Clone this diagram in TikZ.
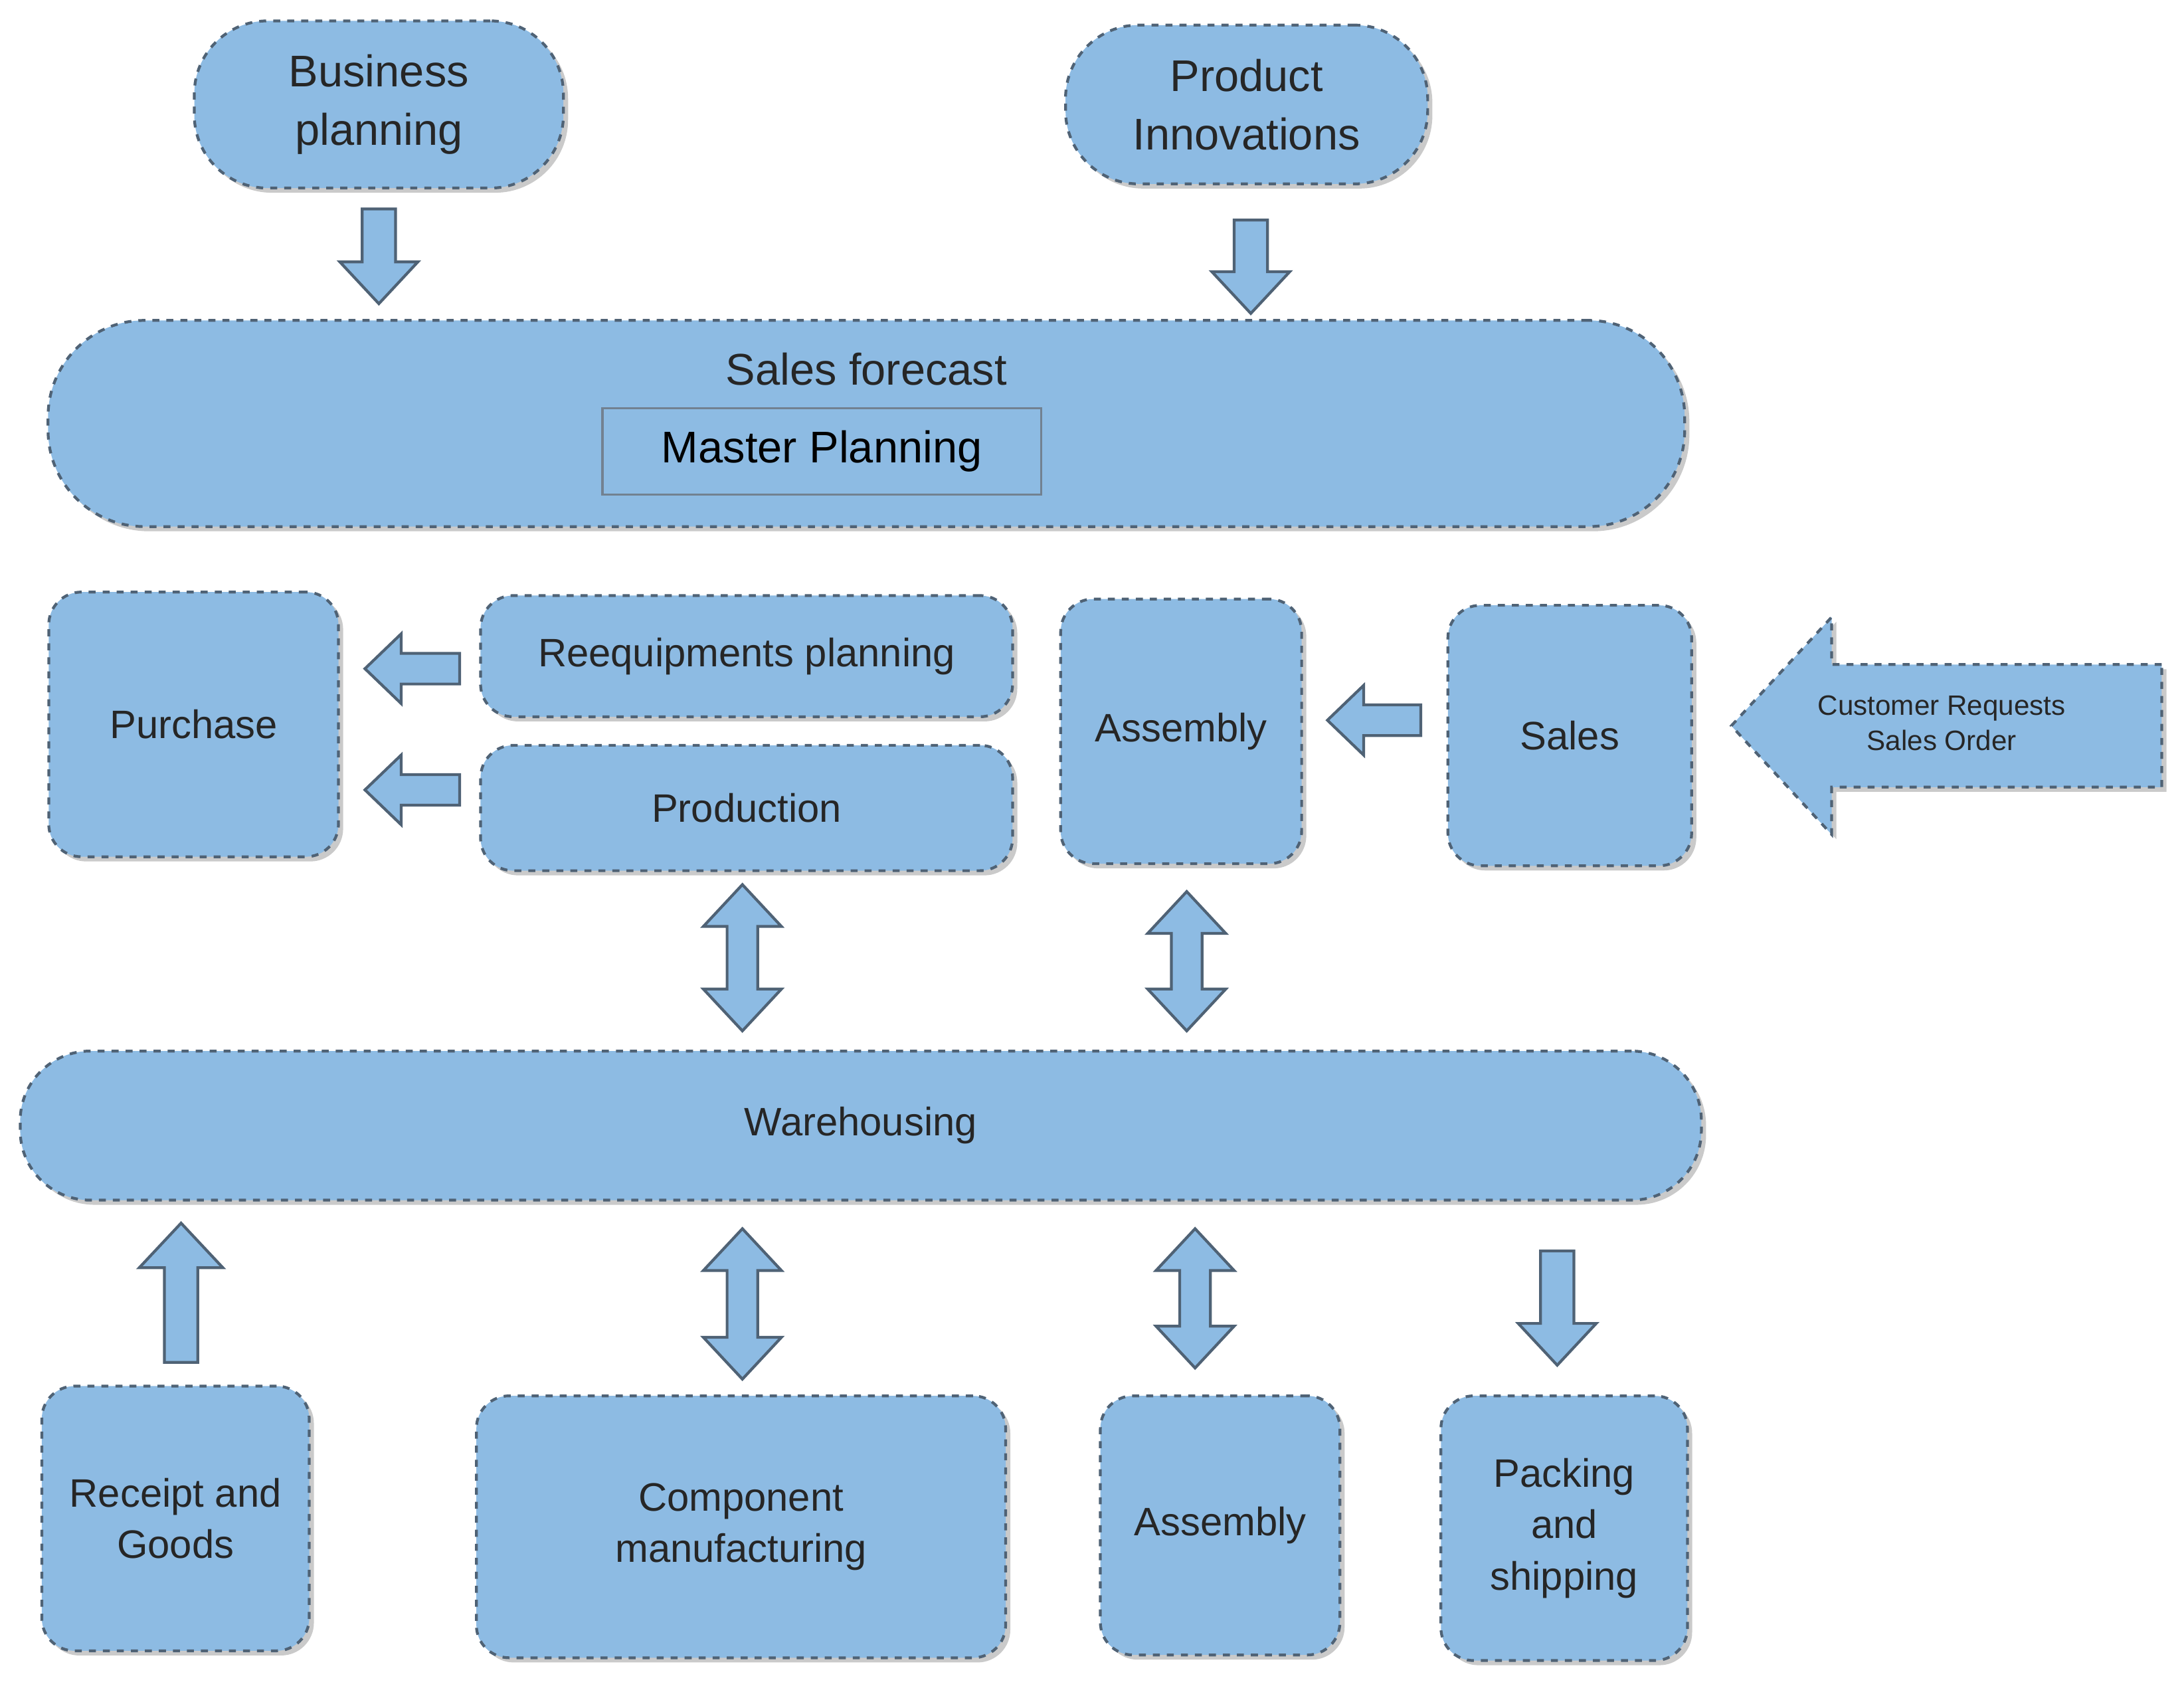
\documentclass[tikz,border=0pt]{standalone}
\usepackage{fontspec}
\setmainfont{Liberation Sans}
\usetikzlibrary{shadows}
\newcommand\uu{0.02097cm}
\definecolor{bfill}{HTML}{8DBBE3}
\definecolor{bline}{HTML}{4F6275}
\tikzset{
 base/.style={fill=bfill,draw=bline,dashed,line width=1.2pt,
   drop shadow={shadow xshift=2pt,shadow yshift=-2pt,opacity=0.35,fill=black!60},align=center,text=black!85},
 box/.style={base,rounded corners=14pt,font=\fontsize{17}{22}\selectfont},
 pill/.style={base,rounded corners=1.1cm,font=\fontsize{19}{25}\selectfont},
 arr/.style={fill=bfill,draw=bline,line width=1.2pt,solid,line join=miter}
}
% vertical arrow: x, ystart, yend(tip), head half width, shaft half width, signed head length
\newcommand\myvarr[7][]{\draw[arr,#1] ({#2-#6},#3) -- ({#2-#6},{#4-#7}) -- ({#2-#5},{#4-#7}) -- (#2,#4) -- ({#2+#5},{#4-#7}) -- ({#2+#6},{#4-#7}) -- ({#2+#6},#3) -- cycle;}
\newcommand\myharr[7][]{\draw[arr,#1] (#3,{#2-#6}) -- ({#4-#7},{#2-#6}) -- ({#4-#7},{#2-#5}) -- (#4,#2) -- ({#4-#7},{#2+#5}) -- ({#4-#7},{#2+#6}) -- (#3,{#2+#6}) -- cycle;}
% double vertical: x, ytop, ybottom, hw, sw, hl
\newcommand\mydarr[6]{\draw[arr] (#1,#2) -- ({#1+#4},{#2+#6}) -- ({#1+#5},{#2+#6}) -- ({#1+#5},{#3-#6}) -- ({#1+#4},{#3-#6}) -- (#1,#3) -- ({#1-#4},{#3-#6}) -- ({#1-#5},{#3-#6}) -- ({#1-#5},{#2+#6}) -- ({#1-#4},{#2+#6}) -- cycle;}
\begin{document}
\begin{tikzpicture}[x=\uu,y=-\uu]
\useasboundingbox (0,0) rectangle (1568,1224.6);
\node[pill,minimum width=265*\uu,minimum height=120*\uu] (bp) at (272,75) {Business\\planning};
\node[pill,minimum width=260*\uu,minimum height=114*\uu] (pi) at (895,75) {Product\\Innovations};
\node[base,rounded corners=1.45cm,minimum width=1175*\uu,minimum height=148*\uu] (sf) at (622,304) {};
\node[font=\fontsize{19}{25}\selectfont,text=black!85] (sft) at (622,265) {Sales forecast};
\node[fill=bfill,draw=bline!80,solid,line width=1pt,minimum width=315*\uu,minimum height=62*\uu,font=\fontsize{19}{25}\selectfont] (mp) at (590,324) {Master Planning};
\myvarr{272}{150}{218}{28}{12}{30}
\myvarr{898}{158}{225}{28}{12}{30}

\node[box,minimum width=208*\uu,minimum height=190*\uu] (pu) at (139,520) {Purchase};
\node[box,minimum width=382*\uu,minimum height=87*\uu] (rp) at (536,471) {Reequipments planning};
\node[box,minimum width=382*\uu,minimum height=90*\uu] (pr) at (536,580) {Production};
\node[box,minimum width=173*\uu,minimum height=190*\uu] (as1) at (848,525) {Assembly};
\node[box,minimum width=175*\uu,minimum height=187*\uu] (sa) at (1127,528) {Sales};
\myharr[dashed,drop shadow={shadow xshift=2pt,shadow yshift=-2pt,opacity=0.35,fill=black!60}]{521}{1552}{1243}{78}{44}{-72}
\node[font=\fontsize{12}{15}\selectfont,align=center,text=black!85] (crt) at (1394,519) {Customer Requests\\Sales Order};
\myharr{480}{330}{262}{25}{11}{-26}
\myharr{567}{330}{262}{25}{11}{-26}
\myharr{517}{1020}{953}{25}{11}{-26}
\mydarr{533}{635}{740}{28}{11}{30}
\mydarr{852}{640}{740}{28}{11}{30}

\node[base,rounded corners=1.05cm,minimum width=1207*\uu,minimum height=107*\uu,font=\fontsize{17}{22}\selectfont] (wh) at (618,808) {Warehousing};

\myvarr{130}{978}{878}{30}{12}{-32}
\mydarr{533}{882}{990}{28}{11}{30}
\mydarr{858}{882}{982}{28}{11}{30}
\myvarr{1118}{898}{980}{28}{12}{30}

\node[box,minimum width=192*\uu,minimum height=190*\uu] (rg) at (126,1090) {Receipt and\\Goods};
\node[box,minimum width=380*\uu,minimum height=188*\uu] (cm) at (532,1096) {Component\\manufacturing};
\node[box,minimum width=172*\uu,minimum height=186*\uu] (as2) at (876,1095) {Assembly};
\node[box,minimum width=177*\uu,minimum height=190*\uu] (ps) at (1123,1097) {Packing\\and\\shipping};
\end{tikzpicture}
\end{document}
